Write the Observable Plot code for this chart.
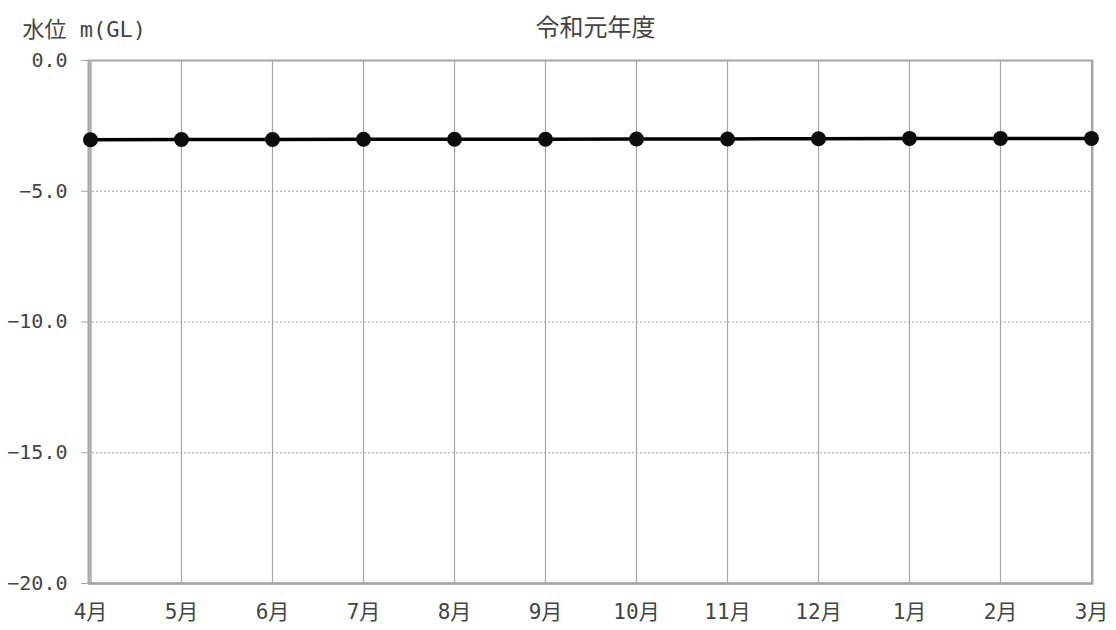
<!DOCTYPE html>
<html>
<head>
<meta charset="utf-8">
<script src="https://cdn.jsdelivr.net/npm/d3@7"></script>
<script src="https://cdn.jsdelivr.net/npm/@observablehq/plot@0.6"></script>
<style>
  html, body { margin: 0; padding: 0; background: #fff; }
  #chart svg { display: block; }
</style>
</head>
<body>
<div id="chart"></div>
<script>
const title = "令和元年度";
const yLabel = "水位 m(GL)";
const months = ["4月","5月","6月","7月","8月","9月","10月","11月","12月","1月","2月","3月"];
const levels = [-3.03, -3.02, -3.02, -3.01, -3.01, -3.01, -3.00, -3.00, -2.99, -2.98, -2.98, -2.98];
const yTicks = [0, -5, -10, -15, -20];
const gridY = [-5, -10, -15];

const data = months.map((m, i) => ({month: m, level: levels[i]}));
const font = "'DejaVu Sans Mono', 'Noto Sans CJK JP', monospace";
const textColor = "#444";

const chart = Plot.plot({
  width: 1116,
  height: 630,
  marginLeft: 88,
  marginRight: 24,
  marginTop: 60,
  marginBottom: 47,
  style: {fontFamily: font, fontSize: "21px", color: textColor, background: "#fff"},
  x: {type: "point", domain: months, padding: 0},
  y: {domain: [-20, 0]},
  marks: [
    Plot.ruleY(gridY, {stroke: "#a6a6a6", strokeWidth: 1, strokeDasharray: "2,2"}),
    Plot.ruleX(months, {x: d => d, stroke: "#a6a6a6", strokeWidth: 1.2}),
    Plot.frame({stroke: "#a6a6a6", strokeWidth: 2}),
    Plot.ruleX([months[0]], {x: d => d, stroke: "#b0b0b0", strokeWidth: 2.5}),
    Plot.ruleY([-20], {stroke: "#a6a6a6", strokeWidth: 2.5}),
    Plot.axisY({ticks: yTicks, tickSize: 7, tickPadding: 14, tickFormat: d => (d === 0 ? "0.0" : "−" + Math.abs(d).toFixed(1)), stroke: "#a6a6a6", fill: textColor, fontSize: 20, label: null}),
    Plot.axisX({tickSize: 0, tickPadding: 21, fill: textColor, fontSize: 21, label: null}),
    Plot.line(data, {x: "month", y: "level", stroke: "#000", strokeWidth: 3.5}),
    Plot.dot(data, {x: "month", y: "level", r: 7.5, fill: "#0d0d0d", stroke: "none"}),
    Plot.text([title], {text: d => d, frameAnchor: "top", dy: -42, fontSize: 24, fill: textColor, fontFamily: "'Noto Sans CJK JP', sans-serif", textAnchor: "middle", dx: 5}),
    Plot.text([yLabel], {text: d => d, frameAnchor: "top-left", dx: -66, dy: -39, fontSize: 22, fill: textColor, textAnchor: "start"})
  ]
});
document.getElementById("chart").appendChild(chart);
</script>
</body>
</html>
